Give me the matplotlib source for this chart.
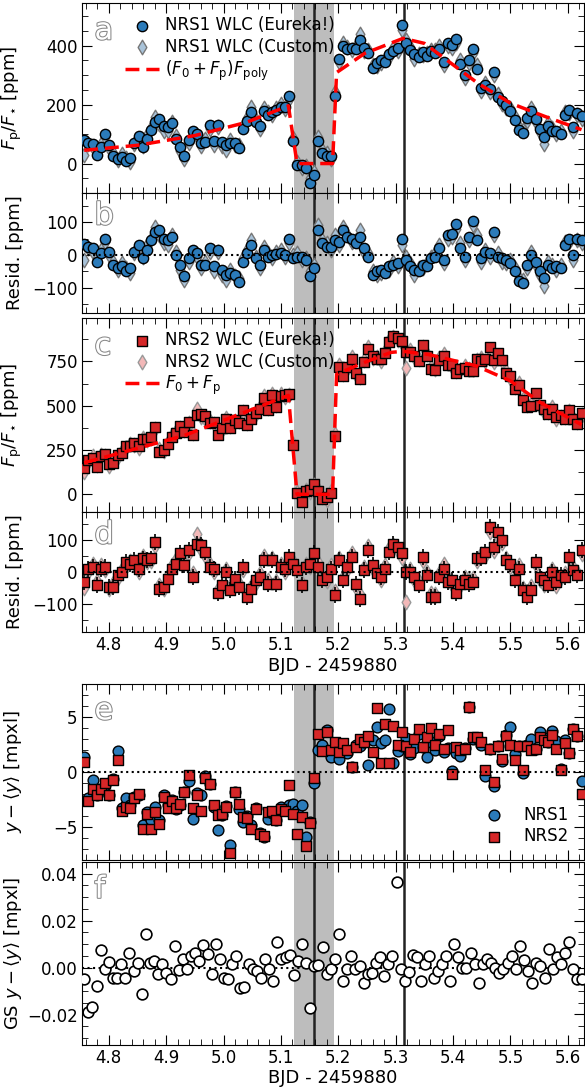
import matplotlib.pyplot as plt
import matplotlib.patheffects as pe
import numpy as np
from matplotlib.ticker import MultipleLocator

# time range of the observations (BJD - 2459880)
t_start, t_end = 4.757, 5.624
eclipse_lo, eclipse_hi = 5.123, 5.193
t_mid_eclipse, t_peak = 5.158, 5.314

# NRS1 model (F0 + Fp) * Fpoly, piecewise knots
nrs1_model_t = [4.757, 4.85, 4.95, 5.04, 5.113, 5.128, 5.19, 5.197, 5.246, 5.313, 5.35, 5.443, 5.50, 5.56, 5.624]
nrs1_model_f = [45, 62, 95, 140, 196, 0, 0, 309, 374, 425, 408, 273, 205, 160, 115]

# NRS2 model F0 + Fp
nrs2_model_t = [4.757, 4.93, 5.113, 5.128, 5.19, 5.197, 5.246, 5.292, 5.313, 5.356, 5.44, 5.50, 5.553, 5.624]
nrs2_model_f = [178, 330, 558, 0, 0, 678, 745, 801, 807, 790, 725, 640, 516, 393]

# residuals [ppm]
nrs1_resid_eureka = [34, 25, 20, -20, 5, 48, 10, -30, -40, -35, -50, -40, 10, 30, -10, 15, 45, 70, 75, 50,
                     45, 55, 0, -30, -65, -10, 15, 5, -30, -30, 22, -35, 15, -45, -60, -55, -60, -82, -20, 5,
                     30, -10, -30, 15, -5, 0, 2, 5, 0, 48, -10, -5, -5, -15, -65, -40, 75, 35, 25, 25,
                     45, 40, 75, 55, 50, 35, 55, 20, -5, -60, -50, -45, -55, -35, -30, -25, 48, -15, -35, -45,
                     -50, -30, -35, -10, -5, 20, -15, 60, 65, 95, 20, -5, 55, 105, 45, -10, 10, 5, 70, -5,
                     -10, -15, -25, -50, -80, -85, -30, 0, -20, -50, -70, -30, -40, -35, -40, 30, 50, 0, 50, 45]
nrs1_resid_custom = [-15, 20, 10, -10, 15, 40, 0, -20, -45, -25, -40, -55, 5, 20, -5, 30, 50, 85, 60, 35,
                     30, 60, 10, -45, -75, -20, 5, -5, -40, -20, 10, -50, 10, -60, -75, -45, -65, -70, -10, 15,
                     45, -5, -40, 25, 5, -10, 10, 15, -5, 35, 0, 5, -15, -10, -50, -30, 90, 45, 35, 15,
                     60, 30, 85, 60, 40, 45, 75, 10, 5, -50, -60, -55, -45, -45, -20, -35, 30, -5, -25, -60,
                     -40, -40, -25, -5, 5, 30, -25, 50, 55, 80, 35, -15, 45, 90, 60, -20, 15, -5, 60, 5,
                     -20, -25, -15, -40, -70, -75, -40, 10, -30, -60, -95, -20, -30, -45, -30, 40, 40, -15, 45, 35]
nrs2_resid_eureka = [-32, 10, 15, -42, 10, 15, -47, -47, -10, 0, 32, 26, 37, 10, 42, 37, 42, 95, -53, -47,
                     -21, 10, 26, 58, 21, 68, -16, 89, 84, 63, 16, 10, -68, -42, 0, -58, -21, -47, 16, -79,
                     -53, -26, -16, 37, -37, 37, -37, 16, 10, 47, 26, 5, -42, 16, 26, 58, 16, -26, -16, 10,
                     -74, 37, -26, 16, 47, -37, -84, 5, 68, 21, -5, -16, 10, 63, 89, 79, 58, 0, 0, -16,
                     -42, 47, -10, -79, -79, -16, 10, -32, -26, -68, -37, -26, -37, -32, 42, 42, 63, 142, 79, 126,
                     100, 37, 26, -26, 10, -58, -79, -58, 32, -16, -26, -42, 0, -32, -10, -16, 47, 5, -10, 68]
nrs2_resid_custom = [-50, 0, 25, -30, 20, 5, -55, -35, -20, 10, 20, 35, 25, 0, 50, 30, 35, 80, -40, -55,
                     -10, 20, 40, 50, 30, 60, -5, 120, 70, 50, 25, 0, -55, -50, 10, -45, -30, -35, 5, -65,
                     -45, -35, -5, 50, -25, 45, -30, 25, 0, 40, 35, 15, -35, 25, 15, 50, 30, -15, -30, 20,
                     -60, 45, -15, 5, 60, -50, -70, 15, 80, 10, 5, -25, 20, 75, 85, 65, 45, -95, 10, -25,
                     -30, 35, 0, -65, -70, -5, 25, -20, -40, -55, -45, -15, -25, -20, 35, 55, 50, 125, 65, 110,
                     90, 45, 15, -15, 20, -50, -70, -45, 20, -25, -40, -30, 10, -45, -20, -5, 40, 15, 0, 55]

# y-position relative to the mean [mpxl]
nrs1_ypos = [1.4, -2.4, -0.7, -2.1, -1.5, -1.2, -2.1, -0.6, 1.9, -3.3, -2.4, -3.0, -2.3, -2.1, -4.8, -3.6, -4.4, -3.2, -4.4, -2.1,
             -3.0, -2.5, -3.4, -3.0, -1.8, -0.8, -4.3, -1.9, -2.1, -0.4, -1.1, -3.2, -5.3, -3.9, -3.1, -6.6, -1.8, -3.4, -4.5, -4.0,
             -4.8, -3.3, -5.5, -5.9, -4.3, -3.7, -4.4, -3.2, -3.4, -3.0, -2.9, -3.5, -3.0, -5.9, -4.5, -1.0, 2.0, 2.5, 3.8, 1.4,
             2.3, 1.2, 2.1, 1.7, 0.5, 2.5, 2.4, 2.7, 0.6, 2.9, 4.1, 2.6, 2.9, 5.7, 0.8, 1.9, 2.4, 3.1, 1.6, 2.2,
             3.5, 2.3, 1.4, 2.7, 2.0, 3.3, 1.8, 2.2, 0.1, 1.7, 1.5, 2.2, 5.9, 3.0, 3.1, 2.5, -0.4, 2.1, -1.3, 2.4,
             1.0, 3.4, 4.1, 1.6, 2.4, -0.1, 2.5, 3.0, 2.1, 3.6, 3.1, 2.7, 3.7, 2.8, 0.3, 2.9, 1.7, 3.9, 3.3, -0.8]
nrs2_ypos = [0.9, -2.6, -1.5, -2.1, -1.5, -1.0, -2.1, -0.7, 1.1, -3.5, -3.2, -3.3, -2.4, -2.0, -5.2, -3.8, -5.2, -3.6, -4.7, -2.3,
             -3.3, -2.6, -3.3, -2.9, -1.8, -0.3, -3.3, -2.1, -3.5, -0.5, -1.1, -3.0, -3.9, -3.8, -3.2, -7.4, -1.8, -2.9, -4.1, -4.2,
             -5.2, -3.4, -5.6, -5.8, -3.6, -3.5, -4.4, -3.4, -3.5, -1.2, -3.8, -5.6, -4.1, -6.7, -4.6, -0.5, 3.5, 1.9, 3.6, 2.0,
             2.7, 1.8, 2.6, 2.0, 0.5, 2.3, 3.0, 2.7, 3.3, 1.8, 5.8, 0.8, 4.4, 0.8, 4.2, 2.5, 3.6, 2.4, 1.8, 3.0,
             3.9, 2.3, 3.2, 4.0, 2.5, 3.5, 2.1, 3.8, -0.2, 2.3, 2.0, 2.1, 5.9, 3.2, 3.2, 2.7, 0.2, 2.1, -0.9, 2.4,
             1.2, 3.3, 2.5, 1.1, 2.4, 0.2, 2.4, 2.0, 2.1, 3.2, 2.9, 2.7, 3.4, 2.1, 0.2, 2.6, 1.7, 3.9, 3.3, -2.0]

# Gaussian-smoothed y-position [mpxl]
gs_ypos = [-0.005, -0.019, -0.017, -0.008, 0.0074, -0.0007, 0.0024, -0.0043, -0.0043, 0.0014, -0.0043, 0.0061, -0.0014, 0.0019, -0.0114, 0.0143,
           0.0021, 0.0029, -0.0029, 0.0017, -0.0021, -0.005, 0.0093, -0.001, 0.0036, -0.0007, 0.005, 0.0064, 0.0029, 0.0097, 0.0057, -0.0026,
           0.01, 0.0036, -0.0043, -0.005, 0.0017, 0.005, -0.0086, -0.0083, 0.0017, -0.0007, -0.0014, -0.0043, 0.0036, -0.0007, -0.0057, 0.011,
           0.0036, 0.0043, 0.0054, -0.0031, 0.0029, 0.01, 0.0021, -0.0174, 0.0007, 0.001, 0.0086, -0.0026, -0.0007, 0.0036, 0.0143, -0.0057,
           -0.0007, 0.005, -0.0007, 0.0007, -0.0064, -0.0029, -0.0024, 0.0021, 0.0046, -0.0036, 0.0014, 0.0049, 0.0364, -0.0007, -0.0057, -0.0017,
           0.0054, 0.0046, -0.0057, 0.0017, 0.005, -0.0043, -0.0014, 0.0014, 0.005, -0.0057, 0.01, 0.0043, 0.0, 0.0, 0.0064, 0.0017,
           -0.0064, 0.0014, 0.0036, 0.0021, 0.0, -0.0021, -0.0007, 0.0021, 0.005, -0.0007, 0.0093, 0.0031, -0.0014, -0.0064, 0.0021, 0.0007,
           -0.0043, 0.0079, -0.0007, 0.0043, 0.0014, 0.0061, 0.0107, -0.0007, -0.005, -0.005]

x_ticks = [4.8, 4.9, 5.0, 5.1, 5.2, 5.3, 5.4, 5.5, 5.6]


def times(values):
    return np.linspace(t_start, t_end, len(values))


t1 = times(nrs1_resid_eureka)
t2 = times(nrs2_resid_eureka)
nrs1_model = np.interp(t1, nrs1_model_t, nrs1_model_f)
nrs2_model = np.interp(t2, nrs2_model_t, nrs2_model_f)
nrs1_eureka = nrs1_model + np.array(nrs1_resid_eureka)
nrs1_custom = nrs1_model + np.array(nrs1_resid_custom)
nrs2_eureka = nrs2_model + np.array(nrs2_resid_eureka)
nrs2_custom = nrs2_model + np.array(nrs2_resid_custom)

blue = '#2b7bba'
red = '#d62728'
plt.rcParams['font.family'] = 'DejaVu Sans'
plt.rcParams['mathtext.fontset'] = 'dejavusans'

fig = plt.figure(figsize=(5.85, 10.88), dpi=100)
L, W = 0.140, 0.858


def make_ax(top_px, bot_px):
    return fig.add_axes([L, 1 - bot_px / 1088, W, (bot_px - top_px) / 1088])


ax_a = make_ax(3, 193)
ax_b = make_ax(193, 313)
ax_c = make_ax(318, 512)
ax_d = make_ax(512, 632)
ax_e = make_ax(684, 860)
ax_f = make_ax(862, 1045)
axes = [ax_a, ax_b, ax_c, ax_d, ax_e, ax_f]

for ax, letter in zip(axes, 'abcdef'):
    ax.axvspan(eclipse_lo, eclipse_hi, color='#bdbdbd', zorder=0, lw=0)
    ax.axvline(t_mid_eclipse, color='#222222', lw=1.8, zorder=1)
    ax.axvline(t_peak, color='#222222', lw=1.8, zorder=1)
    ax.set_xlim(4.753, 5.628)
    ax.set_xticks(x_ticks)
    ax.xaxis.set_minor_locator(MultipleLocator(0.02))
    ax.tick_params(which='both', direction='in', top=True, right=True, labelsize=12, pad=3)
    ax.tick_params(which='major', length=7)
    ax.tick_params(which='minor', length=4)
    ax.text(0.025, 0.93, letter, transform=ax.transAxes, fontsize=22, color='white', va='top',
            path_effects=[pe.withStroke(linewidth=1.5, foreground='#888888')], zorder=10)

eb = dict(fmt='none', ecolor='black', elinewidth=1.2, zorder=3)


def ordered_legend(ax, order):
    h, l = ax.get_legend_handles_labels()
    lookup = dict(zip(l, h))
    ax.legend([lookup[k] for k in order], order, loc='upper left', bbox_to_anchor=(0.06, 1.0), frameon=False,
              fontsize=12, handletextpad=0.4, borderpad=0.3, labelspacing=0.2)


# panel a
ax_a.errorbar(t1, nrs1_eureka, yerr=14, **eb)
ax_a.scatter(t1, nrs1_custom, marker='d', s=55, color='#a9c3d9', edgecolor='#777777', lw=1, zorder=2, label='NRS1 WLC (Custom)')
ax_a.scatter(t1, nrs1_eureka, marker='o', s=55, color=blue, edgecolor='black', lw=1, zorder=4, label='NRS1 WLC (Eureka!)')
ax_a.plot(nrs1_model_t, nrs1_model_f, '--', color='red', lw=2.5, dashes=(4, 2), zorder=5, label=r'$(F_0+F_{\rm p})F_{\rm poly}$')
ordered_legend(ax_a, ['NRS1 WLC (Eureka!)', 'NRS1 WLC (Custom)', r'$(F_0+F_{\rm p})F_{\rm poly}$'])
ax_a.set_ylim(-100, 545)
ax_a.set_yticks([0, 200, 400])
ax_a.yaxis.set_minor_locator(MultipleLocator(50))
ax_a.set_ylabel(r'$F_{\rm p}/F_{\star}$ [ppm]', fontsize=13)

# panel b
ax_b.errorbar(t1, nrs1_resid_eureka, yerr=14, **eb)
ax_b.scatter(t1, nrs1_resid_custom, marker='d', s=55, color='#a9c3d9', edgecolor='#777777', lw=1, zorder=2)
ax_b.scatter(t1, nrs1_resid_eureka, marker='o', s=55, color=blue, edgecolor='black', lw=1, zorder=4)
ax_b.axhline(0, color='black', ls=':', lw=1.5, zorder=5)
ax_b.set_ylim(-177, 189)
ax_b.set_yticks([-100, 0, 100])
ax_b.yaxis.set_minor_locator(MultipleLocator(50))
ax_b.set_ylabel('Resid. [ppm]', fontsize=13)

# panel c
ax_c.errorbar(t2, nrs2_eureka, yerr=25, **eb)
ax_c.scatter(t2, nrs2_custom, marker='d', s=55, color='#f2b8b8', edgecolor='#999999', lw=1, zorder=2, label='NRS2 WLC (Custom)')
ax_c.scatter(t2, nrs2_eureka, marker='s', s=48, color=red, edgecolor='black', lw=1, zorder=4, label='NRS2 WLC (Eureka!)')
ax_c.plot(nrs2_model_t, nrs2_model_f, '--', color='red', lw=2.5, dashes=(4, 2), zorder=5, label=r'$F_0+F_{\rm p}$')
ordered_legend(ax_c, ['NRS2 WLC (Eureka!)', 'NRS2 WLC (Custom)', r'$F_0+F_{\rm p}$'])
ax_c.set_ylim(-100, 995)
ax_c.set_yticks([0, 250, 500, 750])
ax_c.yaxis.set_minor_locator(MultipleLocator(125))
ax_c.set_ylabel(r'$F_{\rm p}/F_{\star}$ [ppm]', fontsize=13)

# panel d
ax_d.errorbar(t2, nrs2_resid_eureka, yerr=25, **eb)
ax_d.scatter(t2, nrs2_resid_custom, marker='d', s=55, color='#f2b8b8', edgecolor='#999999', lw=1, zorder=2)
ax_d.scatter(t2, nrs2_resid_eureka, marker='s', s=48, color=red, edgecolor='black', lw=1, zorder=4)
ax_d.axhline(0, color='black', ls=':', lw=1.5, zorder=5)
ax_d.set_ylim(-189, 188)
ax_d.set_yticks([-100, 0, 100])
ax_d.yaxis.set_minor_locator(MultipleLocator(50))
ax_d.set_ylabel('Resid. [ppm]', fontsize=13)
ax_d.set_xlabel('BJD - 2459880', fontsize=13, labelpad=2)

# panel e
ax_e.scatter(times(nrs1_ypos), nrs1_ypos, marker='o', s=60, color=blue, edgecolor='black', lw=1, zorder=3, label='NRS1')
ax_e.scatter(times(nrs2_ypos), nrs2_ypos, marker='s', s=55, color=red, edgecolor='black', lw=1, zorder=4, label='NRS2')
ax_e.axhline(0, color='black', ls=':', lw=1.5, zorder=5)
ax_e.legend(loc='lower right', frameon=False, fontsize=12, handletextpad=0.8, labelspacing=0.2)
ax_e.set_ylim(-8, 8)
ax_e.set_yticks([-5, 0, 5])
ax_e.yaxis.set_minor_locator(MultipleLocator(1))
ax_e.set_ylabel(r'$y - \langle y \rangle$ [mpxl]', fontsize=13)

# panel f
ax_f.scatter(times(gs_ypos), gs_ypos, marker='o', s=60, facecolor='white', edgecolor='black', lw=1.2, zorder=3)
ax_f.axhline(0, color='black', ls=':', lw=1.5, zorder=2)
ax_f.set_ylim(-0.033, 0.045)
ax_f.set_yticks([-0.02, 0.0, 0.02, 0.04])
ax_f.yaxis.set_minor_locator(MultipleLocator(0.005))
ax_f.set_ylabel(r'GS $y - \langle y \rangle$ [mpxl]', fontsize=13)
ax_f.set_xlabel('BJD - 2459880', fontsize=13, labelpad=1)

for ax in [ax_a, ax_b, ax_c, ax_e]:
    ax.tick_params(labelbottom=False)

for ax in axes:
    ax.yaxis.set_label_coords(-0.115, 0.5)

fig.savefig('out.png', dpi=100)
